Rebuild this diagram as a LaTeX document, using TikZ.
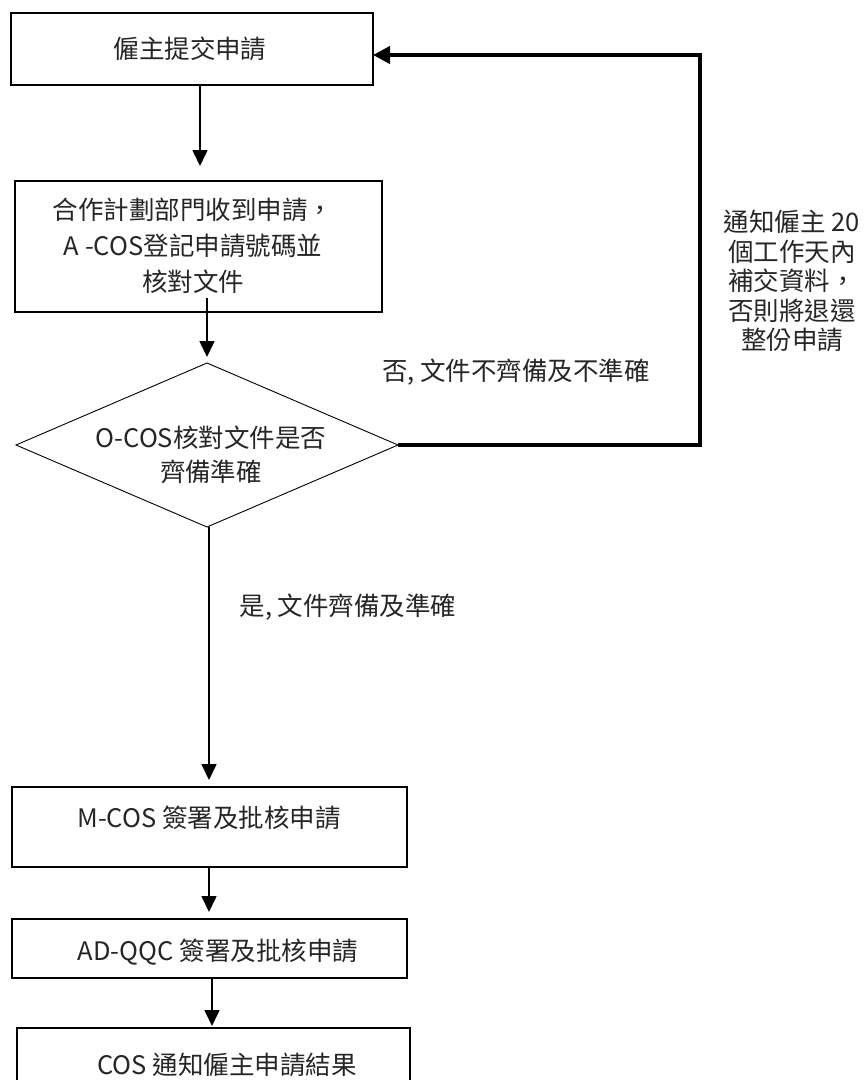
\documentclass[tikz,border=0pt]{standalone}
\usepackage{fontspec}
\setmainfont{Noto Sans CJK TC}
\usetikzlibrary{arrows.meta,shapes.geometric}
\begin{document}
\begin{tikzpicture}[x=1pt,y=-1pt,
  boxst/.style={draw,line width=1.8pt,inner sep=0pt,outer sep=0pt},
  txt/.style={inner sep=0pt,align=center,font=\fontsize{25.5}{36}\selectfont,text=black!85},
  arr/.style={line width=1.6pt,-{Triangle[width=15pt,length=16pt]}},
  thickarr/.style={line width=4pt,-{Triangle[width=17pt,length=17pt]}}]
\useasboundingbox (0,0) rectangle (866,1080);
\clip (0,0) rectangle (866,1080);
% boxes
\node[boxst,minimum width=362pt,minimum height=72pt] (b1) at (192,49) {};
\node[txt] (t1) at (190,49) {僱主提交申請};
\node[boxst,minimum width=367pt,minimum height=131pt] (b2) at (198.5,246.5) {};
\node[txt] (t2) at (193,246) {合作計劃部門收到申請，\\A -COS登記申請號碼並\\核對文件};
\node[diamond,draw,line width=0.9pt,minimum width=382pt,minimum height=164pt,aspect=2.33,inner sep=0pt,outer sep=0pt] (dec) at (207,445) {};
\node[txt,font=\fontsize{25.5}{34}\selectfont] (td) at (211,455) {O-COS核對文件是否\\齊備準確};
\node[boxst,minimum width=395pt,minimum height=80pt] (b3) at (209.5,827) {};
\node[txt] (t3) at (209,818) {M-COS 簽署及批核申請};
\node[boxst,minimum width=395pt,minimum height=59pt] (b4) at (209.5,948.5) {};
\node[txt] (t4) at (218,952) {AD-QQC 簽署及批核申請};
\node[boxst,minimum width=393pt,minimum height=72pt] (b5) at (213.5,1064) {};
\node[txt] (t5) at (227,1065) {COS 通知僱主申請結果};
% labels
\node[txt] (lno) at (516,372) {否, 文件不齊備及不準確};
\node[txt] (lyes) at (348,607) {是, 文件齊備及準確};
\node[txt,font=\fontsize{25.5}{29.5}\selectfont] (lnote) at (792,281) {通知僱主 20\\個工作天內\\補交資料，\\否則將退還\\整份申請};
% coordinates
\coordinate (e1) at (200,166);
\coordinate (s2) at (207,298);
\coordinate (e2) at (207,357);
\coordinate (e3) at (209,780);
\coordinate (e4) at (209,912);
\coordinate (e5) at (212,1026);
\coordinate (loopTop) at (700,55);
% connectors
\draw[arr] (b1.south -| e1) -- (e1);
\draw[arr] (s2) -- (e2);
\draw[arr] (dec.south -| e3) -- (e3);
\draw[arr] (b3.south -| e4) -- (e4);
\draw[arr] (b4.south -| e5) -- (e5);
\draw[thickarr] (dec.east) -| (loopTop) -- (b1.east |- loopTop);
\end{tikzpicture}
\end{document}
